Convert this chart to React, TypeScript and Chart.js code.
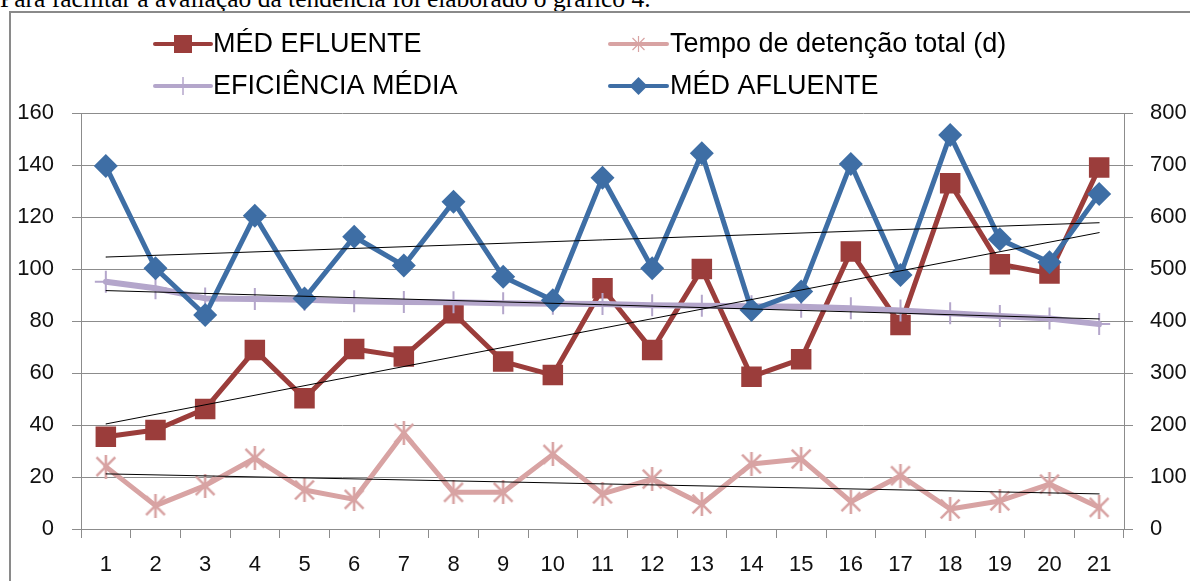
import React, { useEffect, useRef } from "react";
import { Chart, registerables } from "chart.js";

Chart.register(...registerables);

const categories = ["1", "2", "3", "4", "5", "6", "7", "8", "9", "10", "11", "12", "13", "14", "15", "16", "17", "18", "19", "20", "21"];

const medEfluente = [35.5, 38.1, 46.2, 68.8, 50.3, 69.2, 66.3, 83, 64.4, 59.2, 92.6, 68.8, 100, 58.6, 65.3, 106.7, 78.5, 133, 101.8, 98.3, 139];
const medAfluente = [139.6, 100.3, 82.3, 120.5, 88.7, 112.4, 101.3, 125.9, 97, 88, 135.1, 100.3, 144.5, 84.2, 91.3, 140.4, 97.7, 151.5, 111.4, 102.6, 128.8];
const eficienciaMedia = [95.1, 92.6, 88.7, 88.5, 88.2, 87.6, 87.3, 87.2, 86.8, 86.6, 86.5, 86.1, 85.9, 85.7, 85.5, 84.9, 84, 83, 81.9, 81, 78.8];
// plotted on the secondary (right) axis
const tempoDetencao = [120, 45, 83.5, 136, 75, 57, 184, 70.5, 70.5, 143.5, 67.5, 96, 48, 125, 134.5, 52.5, 102.5, 38.5, 54, 86.5, 41.5];

// linear trend lines: value at first and at last category
const trendEfluente = [40.4, 114];
const trendAfluente = [104.6, 117.8];
const trendEficiencia = [91.7, 80.8];
const trendTempo = [106, 67.5];

const leftTicks = [0, 20, 40, 60, 80, 100, 120, 140, 160];
const rightTicks = [0, 100, 200, 300, 400, 500, 600, 700, 800];

const C_EFL = "#9b3d3b";
const C_AFL = "#3e6ea5";
const C_EFI = "#b4a6cb";
const C_TEM = "#d8a3a3";
const GRID = "#8c8c8c";
const FONT = "'Liberation Sans', Arial, sans-serif";

function trendData(pair: number[]) {
  return categories.map((_, i) => (i === 0 ? pair[0] : i === categories.length - 1 ? pair[1] : null));
}

function makeStar(size: number, lw: number, color: string) {
  const c = document.createElement("canvas");
  c.width = size;
  c.height = size;
  const g = c.getContext("2d")!;
  g.strokeStyle = color;
  g.lineWidth = lw;
  g.lineCap = "butt";
  const m = lw;
  g.beginPath();
  g.moveTo(m, m);
  g.lineTo(size - m, size - m);
  g.moveTo(size - m, m);
  g.lineTo(m, size - m);
  g.moveTo(size / 2, 0);
  g.lineTo(size / 2, size);
  g.stroke();
  return c;
}

const legendItems = [
  { ds: 0, x0: 155, x1: 211, y: 44, tx: 213, marker: "rect" },
  { ds: 1, x0: 610, x1: 667, y: 44, tx: 670, marker: "star" },
  { ds: 2, x0: 155, x1: 211, y: 86, tx: 213, marker: "cross" },
  { ds: 3, x0: 610, x1: 667, y: 86, tx: 670, marker: "diamond" },
];

const legendPlugin = {
  id: "customLegend",
  afterDraw(chart: any) {
    const ctx = chart.ctx as CanvasRenderingContext2D;
    ctx.save();
    legendItems.forEach((it) => {
      const ds = chart.data.datasets[it.ds];
      const col = ds.borderColor as string;
      const cx = (it.x0 + it.x1) / 2;
      ctx.strokeStyle = col;
      ctx.lineWidth = 4;
      ctx.lineCap = "round";
      ctx.beginPath();
      ctx.moveTo(it.x0, it.y);
      ctx.lineTo(it.x1, it.y);
      ctx.stroke();
      ctx.lineCap = "butt";
      if (it.marker === "rect") {
        ctx.fillStyle = col;
        ctx.fillRect(cx - 9, it.y - 9, 18, 18);
      } else if (it.marker === "diamond") {
        ctx.fillStyle = col;
        ctx.beginPath();
        ctx.moveTo(cx, it.y - 9);
        ctx.lineTo(cx + 9, it.y);
        ctx.lineTo(cx, it.y + 9);
        ctx.lineTo(cx - 9, it.y);
        ctx.closePath();
        ctx.fill();
      } else if (it.marker === "cross") {
        ctx.lineWidth = 1.5;
        ctx.beginPath();
        ctx.moveTo(cx, it.y - 9);
        ctx.lineTo(cx, it.y + 9);
        ctx.stroke();
      } else if (it.marker === "star") {
        ctx.lineWidth = 1.2;
        ctx.beginPath();
        ctx.moveTo(cx - 6, it.y - 6);
        ctx.lineTo(cx + 6, it.y + 6);
        ctx.moveTo(cx + 6, it.y - 6);
        ctx.lineTo(cx - 6, it.y + 6);
        ctx.moveTo(cx, it.y - 8);
        ctx.lineTo(cx, it.y + 8);
        ctx.stroke();
      }
      ctx.fillStyle = "#000";
      ctx.font = `27px ${FONT}`;
      ctx.textAlign = "left";
      ctx.textBaseline = "middle";
      ctx.fillText(ds.label, it.tx, it.y + 1);
    });
    ctx.restore();
  },
};

export default function App() {
  const ref = useRef<HTMLCanvasElement | null>(null);

  useEffect(() => {
    if (!ref.current) return;
    const star = makeStar(24, 2.6, C_TEM);
    const trendStyle = {
      borderColor: "#000",
      borderWidth: 1,
      pointRadius: 0,
      spanGaps: true,
      fill: false,
      order: 0,
    };
    const chart = new Chart(ref.current, {
      type: "line",
      data: {
        labels: categories,
        datasets: [
          {
            label: "MÉD EFLUENTE",
            data: medEfluente,
            borderColor: C_EFL,
            backgroundColor: C_EFL,
            borderWidth: 5,
            pointStyle: "rect",
            pointRadius: 14.5,
            pointBorderWidth: 0,
            pointBackgroundColor: C_EFL,
            yAxisID: "y",
            order: 4,
          },
          {
            label: "Tempo de detenção total (d)",
            data: tempoDetencao,
            borderColor: C_TEM,
            backgroundColor: C_TEM,
            borderWidth: 5,
            pointStyle: star as any,
            pointRadius: 12,
            yAxisID: "y1",
            order: 3,
          },
          {
            label: "EFICIÊNCIA MÉDIA",
            data: eficienciaMedia,
            borderColor: C_EFI,
            backgroundColor: C_EFI,
            borderWidth: 6,
            pointRadius: 0,
            yAxisID: "y",
            order: 2,
          },
          {
            label: "MÉD AFLUENTE",
            data: medAfluente,
            borderColor: C_AFL,
            backgroundColor: C_AFL,
            borderWidth: 5,
            pointStyle: "rectRot",
            pointRadius: 12,
            pointBorderWidth: 0,
            pointBackgroundColor: C_AFL,
            yAxisID: "y",
            order: 1,
          },
          {
            label: "eficiencia markers",
            data: eficienciaMedia,
            showLine: false,
            borderColor: C_EFI,
            backgroundColor: C_EFI,
            pointStyle: "cross",
            pointRadius: 11,
            pointBorderWidth: 2,
            yAxisID: "y",
            order: 2,
          } as any,
          { label: "trendEfl", data: trendData(trendEfluente), yAxisID: "y", ...trendStyle },
          { label: "trendAfl", data: trendData(trendAfluente), yAxisID: "y", ...trendStyle },
          { label: "trendEfi", data: trendData(trendEficiencia), yAxisID: "y", ...trendStyle },
          { label: "trendTem", data: trendData(trendTempo), yAxisID: "y1", ...trendStyle },
        ],
      },
      options: {
        responsive: false,
        animation: false,
        events: [],
        layout: { padding: { left: 0, right: 0, top: 113, bottom: 0 } },
        plugins: {
          legend: { display: false },
          tooltip: { enabled: false },
        },
        elements: { line: { tension: 0, borderJoinStyle: "round", borderCapStyle: "round" } },
        scales: {
          x: {
            type: "category",
            offset: true,
            grid: {
              display: true,
              offset: true,
              drawOnChartArea: false,
              drawTicks: true,
              tickLength: 9,
              color: GRID,
              lineWidth: 1,
            },
            border: { display: true, color: GRID, width: 1 },
            ticks: { color: "#111", font: { family: FONT, size: 22 }, padding: 14, maxRotation: 0, autoSkip: false },
            afterFit(scale: any) {
              scale.height = 52;
            },
          },
          y: {
            position: "left",
            min: 0,
            max: 160,
            afterBuildTicks(scale: any) {
              scale.ticks = leftTicks.map((v) => ({ value: v }));
            },
            grid: { color: GRID, lineWidth: 1, drawTicks: true, tickLength: 9 },
            border: { display: true, color: GRID, width: 1 },
            ticks: { color: "#111", font: { family: FONT, size: 22 }, padding: 18 },
            afterFit(scale: any) {
              scale.width = 81;
            },
          },
          y1: {
            position: "right",
            min: 0,
            max: 800,
            afterBuildTicks(scale: any) {
              scale.ticks = rightTicks.map((v) => ({ value: v }));
            },
            grid: { drawOnChartArea: false, color: GRID, lineWidth: 1, drawTicks: true, tickLength: 9 },
            border: { display: true, color: GRID, width: 1 },
            ticks: { color: "#111", font: { family: FONT, size: 22 }, padding: 17 },
            afterFit(scale: any) {
              scale.width = 66;
            },
          },
        },
      },
      plugins: [legendPlugin],
    });
    return () => chart.destroy();
  }, []);

  return (
    <div style={{ position: "absolute", left: 0, top: 0, width: 1190, height: 581, overflow: "hidden", background: "#fff" }}>
      <div
        style={{
          position: "absolute",
          left: 0,
          top: -16,
          fontFamily: "'Liberation Serif', 'Times New Roman', serif",
          fontSize: 25.5,
          whiteSpace: "nowrap",
          color: "#000",
          lineHeight: "normal",
        }}
      >
        Para facilitar a avaliação da tendência foi elaborado o gráfico 4.
      </div>
      <div
        style={{
          position: "absolute",
          left: 9,
          top: 11,
          width: 1300,
          height: 700,
          border: "2px solid #8a8a8a",
          boxSizing: "border-box",
        }}
      />
      <canvas ref={ref} width={1190} height={581} style={{ position: "absolute", left: 0, top: 0, width: 1190, height: 581, display: "block" }} />
    </div>
  );
}
